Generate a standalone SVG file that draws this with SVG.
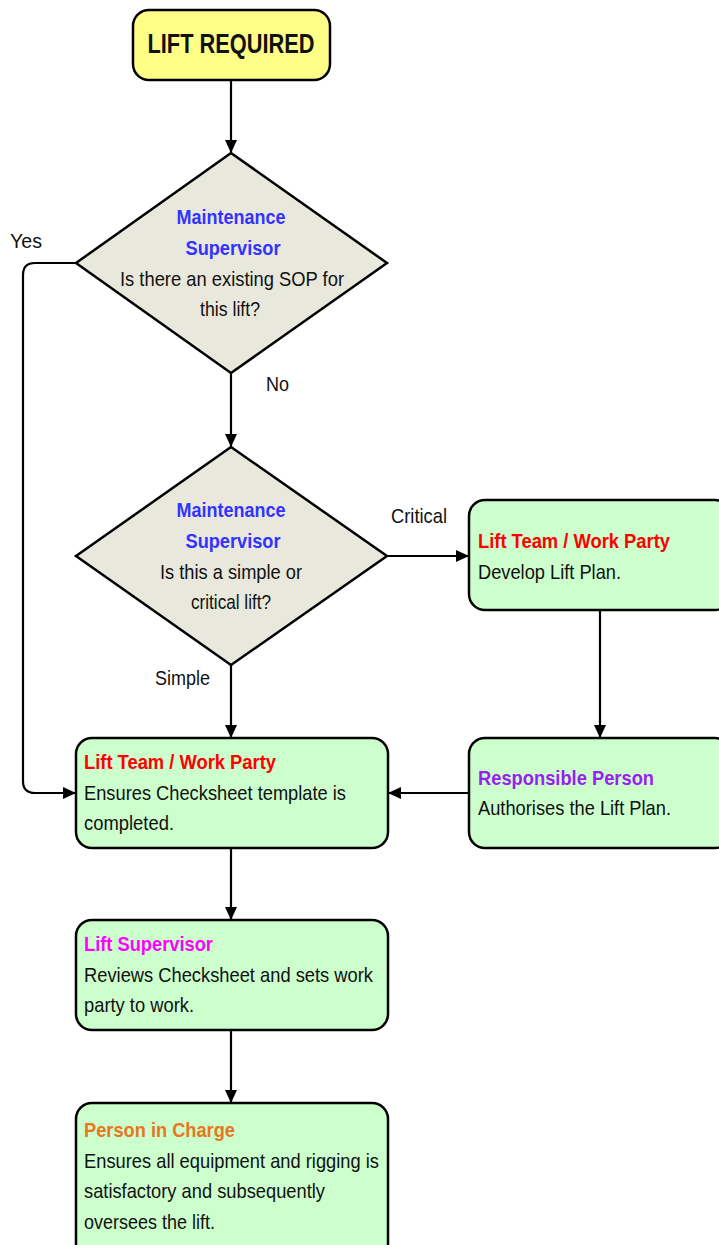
<svg xmlns="http://www.w3.org/2000/svg" width="719" height="1245" viewBox="0 0 719 1245">
<defs>
<style>
text{font-family:"Liberation Sans Narrow","Liberation Sans",Arial,sans-serif;font-size:21px;fill:#111}
.b{font-weight:bold}
.c{text-anchor:middle}
.box{fill:#CCFFCC;stroke:#000;stroke-width:2.5}
.dia{fill:#E8E8DC;stroke:#000;stroke-width:2.5}
.ln{fill:none;stroke:#000;stroke-width:2.2}
.blue{fill:#3333FF}
.red{fill:#FF0000}
.mag{fill:#FF00FF}
.pur{fill:#9A1EF0}
.org{fill:#E8761E}
</style>
<marker id="ah" markerWidth="13" markerHeight="12" refX="12" refY="6" orient="auto" markerUnits="userSpaceOnUse">
<path d="M0,0 L13,6 L0,12 Z" fill="#000"/>
</marker>
</defs>
<g id="connectors">
<path class="ln" d="M231,80 V152" marker-end="url(#ah)"/>
<path class="ln" d="M231,373 V446" marker-end="url(#ah)"/>
<path class="ln" d="M76,263 H35 Q23,263 23,275 V781 Q23,793 35,793 H75" marker-end="url(#ah)"/>
<path class="ln" d="M231,665 V737" marker-end="url(#ah)"/>
<path class="ln" d="M387,556 H468" marker-end="url(#ah)"/>
<path class="ln" d="M600,610 V737" marker-end="url(#ah)"/>
<path class="ln" d="M469,793 H389" marker-end="url(#ah)"/>
<path class="ln" d="M231,848 V919" marker-end="url(#ah)"/>
<path class="ln" d="M231,1030 V1102" marker-end="url(#ah)"/>
<text x="10" y="248" textLength="32" lengthAdjust="spacingAndGlyphs">Yes</text>
<text x="266" y="391" textLength="23" lengthAdjust="spacingAndGlyphs">No</text>
<text x="391" y="523" textLength="56" lengthAdjust="spacingAndGlyphs">Critical</text>
<text x="155" y="685" textLength="55" lengthAdjust="spacingAndGlyphs">Simple</text>
</g>
<g id="start">
<rect x="133" y="10" width="197" height="70" rx="16" fill="#FFFF88" stroke="#000" stroke-width="2.5"/>
<text class="b c" x="231" y="53" style="font-size:27px" textLength="167" lengthAdjust="spacingAndGlyphs">LIFT REQUIRED</text>
</g>
<g id="decision1">
<polygon class="dia" points="231,153 387,263 231,373 76,263"/>
<text class="b c blue" x="231" y="224" textLength="109" lengthAdjust="spacingAndGlyphs">Maintenance</text>
<text class="b c blue" x="233" y="255" textLength="95" lengthAdjust="spacingAndGlyphs">Supervisor</text>
<text class="c" x="232" y="286" textLength="224" lengthAdjust="spacingAndGlyphs">Is there an existing SOP for</text>
<text class="c" x="230" y="316" textLength="60" lengthAdjust="spacingAndGlyphs">this lift?</text>
</g>
<g id="decision2">
<polygon class="dia" points="231,447 387,556 231,665 76,556"/>
<text class="b c blue" x="231" y="517" textLength="109" lengthAdjust="spacingAndGlyphs">Maintenance</text>
<text class="b c blue" x="233" y="548" textLength="95" lengthAdjust="spacingAndGlyphs">Supervisor</text>
<text class="c" x="231" y="579" textLength="142" lengthAdjust="spacingAndGlyphs">Is this a simple or</text>
<text class="c" x="231" y="609" textLength="80" lengthAdjust="spacingAndGlyphs">critical lift?</text>
</g>
<g id="developPlan">
<rect class="box" x="469" y="500" width="262" height="110" rx="16"/>
<text class="b red" x="478" y="548" textLength="192" lengthAdjust="spacingAndGlyphs">Lift Team / Work Party</text>
<text x="478" y="579" textLength="143" lengthAdjust="spacingAndGlyphs">Develop Lift Plan.</text>
</g>
<g id="authorise">
<rect class="box" x="469" y="738" width="262" height="110" rx="16"/>
<text class="b pur" x="478" y="785" textLength="176" lengthAdjust="spacingAndGlyphs">Responsible Person</text>
<text x="478" y="815" textLength="193" lengthAdjust="spacingAndGlyphs">Authorises the Lift Plan.</text>
</g>
<g id="checksheet">
<rect class="box" x="76" y="738" width="312" height="110" rx="16"/>
<text class="b red" x="84" y="769" textLength="192" lengthAdjust="spacingAndGlyphs">Lift Team / Work Party</text>
<text x="84" y="800" textLength="262" lengthAdjust="spacingAndGlyphs">Ensures Checksheet template is</text>
<text x="84" y="830" textLength="90" lengthAdjust="spacingAndGlyphs">completed.</text>
</g>
<g id="liftSupervisor">
<rect class="box" x="76" y="920" width="312" height="110" rx="16"/>
<text class="b mag" x="84" y="951" textLength="129" lengthAdjust="spacingAndGlyphs">Lift Supervisor</text>
<text x="84" y="982" textLength="289" lengthAdjust="spacingAndGlyphs">Reviews Checksheet and sets work</text>
<text x="84" y="1012" textLength="110" lengthAdjust="spacingAndGlyphs">party to work.</text>
</g>
<g id="personInCharge">
<rect class="box" x="76" y="1103" width="312" height="160" rx="16"/>
<text class="b org" x="84" y="1137" textLength="151" lengthAdjust="spacingAndGlyphs">Person in Charge</text>
<text x="84" y="1168" textLength="295" lengthAdjust="spacingAndGlyphs">Ensures all equipment and rigging is</text>
<text x="84" y="1198" textLength="241" lengthAdjust="spacingAndGlyphs">satisfactory and subsequently</text>
<text x="84" y="1229" textLength="131" lengthAdjust="spacingAndGlyphs">oversees the lift.</text>
</g>
</svg>
